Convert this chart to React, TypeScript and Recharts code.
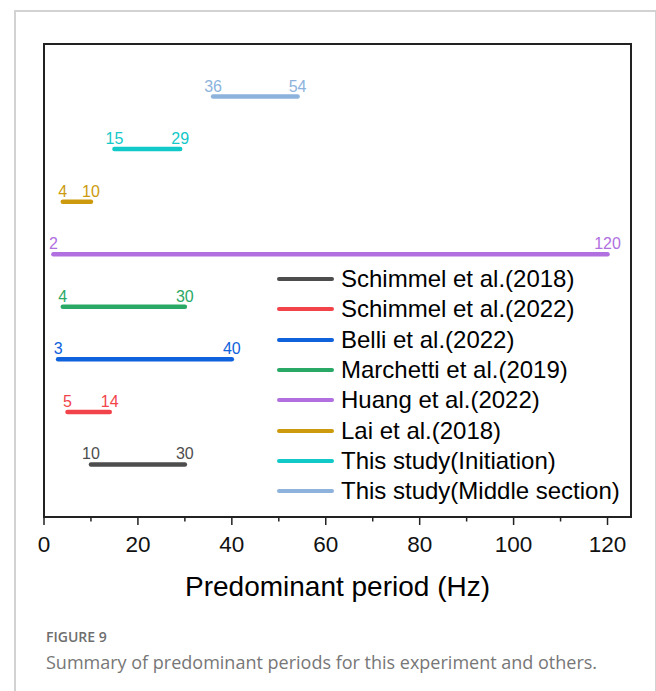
import React from 'react';
import { LineChart, Line, XAxis, YAxis, ReferenceArea, Legend, LabelList } from 'recharts';

// one row per study, bottom to top
const studies = [
  'Schimmel et al.(2018)',
  'Schimmel et al.(2022)',
  'Belli et al.(2022)',
  'Marchetti et al.(2019)',
  'Huang et al.(2022)',
  'Lai et al.(2018)',
  'This study(Initiation)',
  'This study(Middle section)',
];
const periodFrom = [10, 5, 3, 4, 2, 4, 15, 36];
const periodTo = [30, 14, 40, 30, 120, 10, 29, 54];
const colors = ['#4d4d4d', '#f2434a', '#0f62dc', '#2aa866', '#b070e0', '#cc9a0c', '#12c9c9', '#8db3dd'];
const xTicks = [0, 10, 20, 30, 40, 50, 60, 70, 80, 90, 100, 110, 120];

const series = studies.map((name, i) => ({
  name,
  color: colors[i],
  data: [
    { x: periodFrom[i], y: i + 1 },
    { x: periodTo[i], y: i + 1 },
  ],
}));

const FONT = '"Liberation Sans", Arial, sans-serif';

const XTick = (props: any) => {
  const { x, y, payload } = props;
  const major = payload.value % 20 === 0;
  return (
    <g>
      <line x1={x} y1={y} x2={x} y2={y + (major ? 8 : 4.5)} stroke="#222" strokeWidth={1.5} />
      {major && (
        <text x={x} y={y + 35} textAnchor="middle" fontSize={22.5} fontFamily={FONT} fill="#111">
          {payload.value}
        </text>
      )}
    </g>
  );
};

const renderLegend = (props: any) => {
  // keep the order of the studies list, not alphabetical
  const items = [...(props.payload || [])].sort(
    (a: any, b: any) => studies.indexOf(a.value) - studies.indexOf(b.value)
  );
  return (
    <div style={{ fontFamily: FONT, fontSize: 24, color: '#000' }}>
      {items.map((p: any) => (
        <div key={p.value} style={{ display: 'flex', alignItems: 'center', height: 30.3 }}>
          <div style={{ width: 57, height: 4, borderRadius: 2, background: p.color, marginRight: 7 }} />
          <span style={{ lineHeight: '30px', whiteSpace: 'nowrap' }}>{p.value}</span>
        </div>
      ))}
    </div>
  );
};

const makeLabel = (color: string) => (props: any) => {
  const { x, y, value } = props;
  return (
    <text x={x} y={y - 5} textAnchor="middle" fontSize={16} fontFamily={FONT} fill={color}>
      {value}
    </text>
  );
};

export default function App() {
  return (
    <div style={{ position: 'absolute', left: 0, top: 0, width: 656, height: 691, background: '#fff' }}>
      <div
        style={{
          position: 'absolute',
          left: 14,
          top: 10,
          width: 639,
          height: 700,
          borderTop: '2px solid #d2d2d2',
          borderLeft: '2px solid #d2d2d2',
          borderRight: '2px solid #d2d2d2',
        }}
      />
      <div style={{ position: 'absolute', left: 0, top: 0 }}>
        <LineChart width={656} height={620} margin={{ top: 44, right: 25, bottom: 13, left: 44 }}>
          <XAxis
            type="number"
            dataKey="x"
            domain={[0, 125]}
            ticks={xTicks}
            interval={0}
            allowDataOverflow
            height={90}
            tickSize={0}
            tickMargin={0}
            tickLine={false}
            axisLine={{ stroke: '#222', strokeWidth: 2 }}
            tick={<XTick />}
            label={{
              value: 'Predominant period (Hz)',
              position: 'insideBottom',
              offset: 11,
              fontSize: 28,
              fill: '#000',
              fontFamily: FONT,
            }}
          />
          <YAxis type="number" dataKey="y" domain={[0, 9]} hide />
          <ReferenceArea x1={0} x2={125} y1={0} y2={9} fill="none" fillOpacity={0} stroke="#222" strokeWidth={2} />
          <Legend
            layout="vertical"
            align="center"
            verticalAlign="middle"
            content={renderLegend}
            wrapperStyle={{ position: 'absolute', left: 277, top: 264, width: 360 }}
          />
          {series.map((s) => (
            <Line
              key={s.name}
              name={s.name}
              data={s.data}
              dataKey="y"
              type="linear"
              stroke={s.color}
              strokeWidth={4.5}
              strokeLinecap="round"
              dot={false}
              activeDot={false}
              isAnimationActive={false}
            >
              <LabelList dataKey="x" content={makeLabel(s.color)} />
            </Line>
          ))}
        </LineChart>
      </div>
      <div
        style={{
          position: 'absolute',
          left: 46,
          top: 630,
          fontFamily: '"Open Sans", sans-serif',
          fontSize: 14,
          lineHeight: '14px',
          fontWeight: 600,
          color: '#6e6e6e',
        }}
      >
        FIGURE 9
      </div>
      <div
        style={{
          position: 'absolute',
          left: 46,
          top: 653,
          fontFamily: '"Open Sans", sans-serif',
          fontSize: 18,
          lineHeight: '18px',
          color: '#777',
          whiteSpace: 'nowrap',
        }}
      >
        Summary of predominant periods for this experiment and others.
      </div>
    </div>
  );
}
